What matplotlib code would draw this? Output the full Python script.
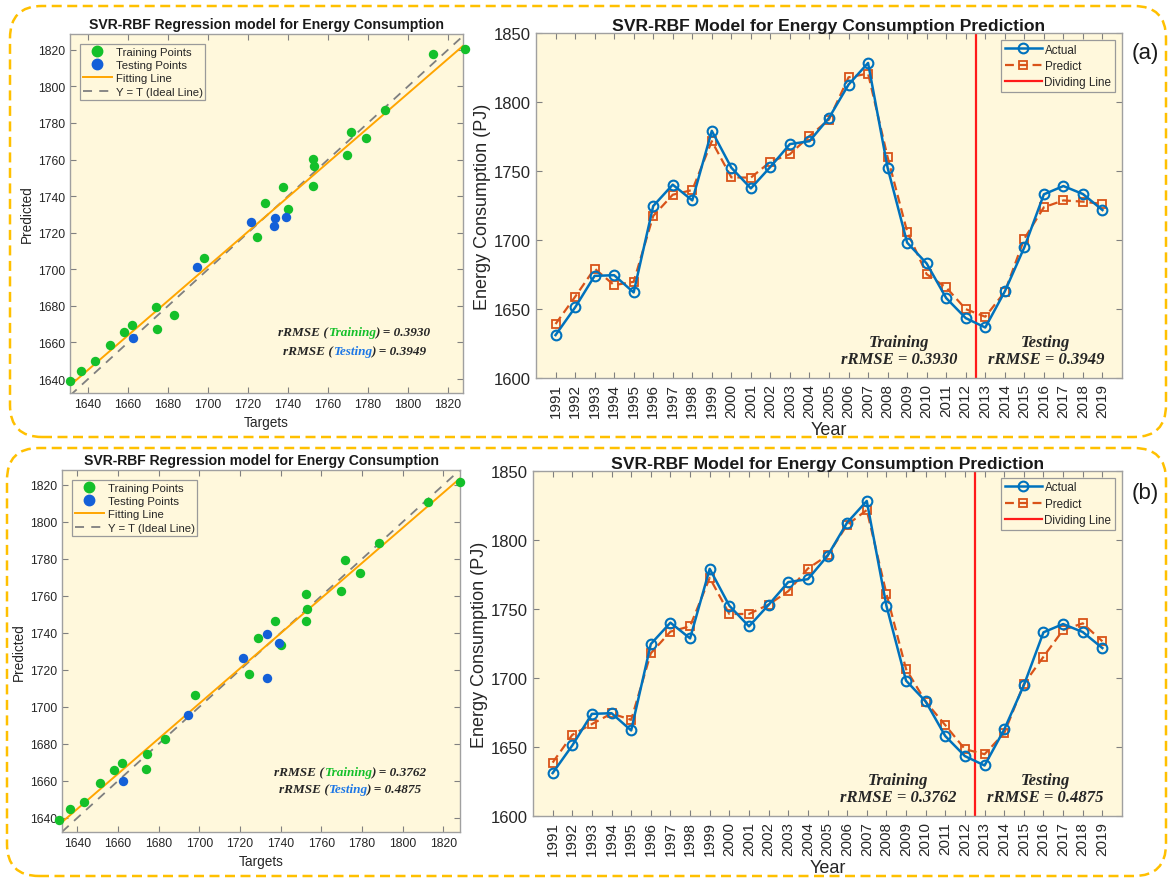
import numpy as np
import matplotlib
matplotlib.use("Agg")
import matplotlib.pyplot as plt
from matplotlib.patches import FancyBboxPatch
from matplotlib.transforms import IdentityTransform
from matplotlib.lines import Line2D

# ---------------- data ----------------
years = list(range(1991, 2020))
actual = [1631.1, 1651.1, 1674.0, 1674.5, 1662.0, 1724.6, 1740.1, 1728.7, 1779.1, 1752.4,
          1737.4, 1753.0, 1769.5, 1771.6, 1788.5, 1812.6, 1828.3, 1752.4, 1698.1, 1683.0,
          1657.9, 1643.4, 1636.6, 1662.7, 1694.7, 1733.1, 1739.1, 1733.3, 1721.7]
pred_a = [1639.1, 1658.8, 1679.3, 1667.3, 1669.7, 1717.4, 1732.8, 1736.2, 1771.6, 1745.4,
          1745.2, 1756.7, 1762.2, 1775.3, 1787.3, 1817.9, 1820.6, 1760.1, 1706.1, 1675.2,
          1665.6, 1649.9, 1644.4, 1662.4, 1701.0, 1723.7, 1728.7, 1727.8, 1726.1]
pred_b = [1638.7, 1658.8, 1666.6, 1674.3, 1669.7, 1717.9, 1733.6, 1737.5, 1772.6, 1746.4,
          1746.4, 1753.2, 1762.9, 1779.3, 1788.8, 1811.0, 1821.7, 1761.2, 1706.5, 1682.8,
          1665.8, 1648.4, 1644.8, 1660.0, 1695.6, 1715.4, 1734.8, 1739.6, 1726.6]
rrmse_a = ("0.3930", "0.3949")
rrmse_b = ("0.3762", "0.4875")
panel_labels = ["(a)", "(b)"]
split_year = 2012.5
n_train_scatter = 23
scatter_ticks = list(range(1640, 1821, 20))
energy_ticks = list(range(1600, 1851, 50))

# ---------------- style ----------------
plt.rcParams['font.family'] = ['Liberation Sans', 'DejaVu Sans']
BG = '#FFF8DC'
SPINE = '#a0a0a0'
TXT = '#262626'
GREEN = '#14C02A'
BLUEPT = '#1460D8'
BLUE = '#0072BD'
ORANGE = '#D95319'
FIT = '#FFA500'
GOLD = '#FFC000'
SERIF = dict(family=['Liberation Serif', 'DejaVu Serif'], weight='bold', style='italic')

W, H = 1172, 879
fig = plt.figure(figsize=(W / 100, H / 100), dpi=100)


def px_axes(left, top, right, bottom):
    return fig.add_axes([left / W, 1 - bottom / H, (right - left) / W, (bottom - top) / H])


def style_axes(ax, labelsize_x, labelsize_y):
    ax.set_facecolor(BG)
    for s in ax.spines.values():
        s.set_color(SPINE)
        s.set_linewidth(1.0)
    ax.tick_params(direction='in', top=True, right=True, length=4, width=0.8,
                   color='#808080', labelcolor=TXT)
    ax.tick_params(axis='x', labelsize=labelsize_x)
    ax.tick_params(axis='y', labelsize=labelsize_y)


def colored_line(ax, x, y, pieces, size):
    texts = []
    first = ax.text(x, y, pieces[0][0], color=pieces[0][1], transform=ax.transAxes,
                    ha='left', va='center', fontsize=size, **SERIF)
    texts.append(first)
    prev = first
    for s, c in pieces[1:]:
        t = ax.annotate(s, xy=(1, 0), xycoords=prev, va='bottom', ha='left',
                        color=c, fontsize=size, **SERIF)
        texts.append(t)
        prev = t
    fig.canvas.draw()
    r = fig.canvas.get_renderer()
    x0 = min(t.get_window_extent(r).x0 for t in texts)
    x1 = max(t.get_window_extent(r).x1 for t in texts)
    first.set_x(x - (x1 - x0) / 2 / ax.bbox.width)


def scatter_panel(ax, pred, xlim, ylim, rr, ty):
    act = np.array(actual)
    prd = np.array(pred)
    xs = np.array(xlim)
    coef = np.polyfit(act, prd, 1)
    ax.plot(xs, xs, ls=(0, (5, 4)), color='#7f7f7f', lw=1.3, zorder=2)
    ax.plot(xs, np.polyval(coef, xs), color=FIT, lw=1.4, zorder=2)
    ax.scatter(act[:n_train_scatter], prd[:n_train_scatter], s=46, color=GREEN,
               clip_on=False, zorder=3, linewidths=0)
    ax.scatter(act[n_train_scatter:], prd[n_train_scatter:], s=46, color=BLUEPT,
               clip_on=False, zorder=3, linewidths=0)
    ax.set_xlim(*xlim)
    ax.set_ylim(*ylim)
    ax.set_xticks(scatter_ticks)
    ax.set_yticks(scatter_ticks)
    style_axes(ax, 8.7, 8.7)
    ax.set_title('SVR-RBF Regression model for Energy Consumption', fontsize=10.1,
                 fontweight='bold', color='#1a1a1a', pad=4)
    ax.set_xlabel('Targets', fontsize=9.8, color=TXT, labelpad=3.5)
    ax.set_ylabel('Predicted', fontsize=9.8, color=TXT, labelpad=3)
    handles = [
        Line2D([], [], ls='none', marker='o', ms=7.5, color=GREEN),
        Line2D([], [], ls='none', marker='o', ms=7.5, color=BLUEPT),
        Line2D([], [], color=FIT, lw=1.4),
        Line2D([], [], color='#7f7f7f', lw=1.3, ls=(0, (5, 4))),
    ]
    leg = ax.legend(handles, ['Training Points', 'Testing Points', 'Fitting Line',
                              'Y = T (Ideal Line)'],
                    loc='upper left', fontsize=8.2, frameon=True, fancybox=False,
                    edgecolor='#9a9a9a', facecolor=BG, framealpha=1,
                    handlelength=2.6, handletextpad=0.3, labelspacing=0.3,
                    borderpad=0.25, borderaxespad=0.85)
    leg.get_frame().set_linewidth(0.9)
    for t in leg.get_texts():
        t.set_color(TXT)
    colored_line(ax, 0.725, ty[0], [('rRMSE (', TXT), ('Training', GREEN),
                                    (') = ' + rr[0], TXT)], 9.5)
    colored_line(ax, 0.725, ty[1], [('rRMSE (', TXT), ('Testing', '#1E78E6'),
                                    (') = ' + rr[1], TXT)], 9.5)


def line_panel(ax, pred, rr):
    ax.plot(years, pred, color=ORANGE, ls=(0, (4, 2.2)), lw=1.6, marker='s', ms=5.5,
            mfc='none', mew=1.3, label='Predict', zorder=3)
    ax.plot(years, actual, color=BLUE, lw=1.8, marker='o', ms=7, mfc='none',
            mew=1.5, label='Actual', zorder=4)
    ax.axvline(split_year, color='#FF1A1A', lw=1.6, label='Dividing Line', zorder=2)
    ax.set_xlim(1990, 2020)
    ax.set_ylim(1600, 1850)
    ax.set_xticks(years)
    ax.set_yticks(energy_ticks)
    style_axes(ax, 11, 12)
    ax.tick_params(axis='x', labelrotation=90)
    ax.set_title('SVR-RBF Model for Energy Consumption Prediction', fontsize=12.6,
                 fontweight='bold', color='#1a1a1a', pad=2)
    ax.set_xlabel('Year', fontsize=13, color=TXT, labelpad=3)
    ax.set_ylabel('Energy Consumption (PJ)', fontsize=13, color=TXT, labelpad=2)
    h, l = ax.get_legend_handles_labels()
    order = [1, 0, 2]
    leg = ax.legend([h[i] for i in order], [l[i] for i in order], loc='upper right',
                    fontsize=8.4, frameon=True, fancybox=False, edgecolor='#9a9a9a',
                    facecolor=BG, framealpha=1, handlelength=3.2, handletextpad=0.2,
                    labelspacing=0.38, borderpad=0.3, borderaxespad=0.6)
    leg.get_frame().set_linewidth(0.9)
    for t in leg.get_texts():
        t.set_color(TXT)
    ax.text(2008.6, 1620, 'Training\nrRMSE = ' + rr[0], ha='center', va='center',
            fontsize=12, color=TXT, linespacing=1.05, **SERIF)
    ax.text(2016.1, 1620, 'Testing\nrRMSE = ' + rr[1], ha='center', va='center',
            fontsize=12, color=TXT, linespacing=1.05, **SERIF)


# dashed rounded frames around each row
for (x0, top, x1, bot) in [(10, 7, 1166, 438), (7, 449, 1166, 877)]:
    frame = FancyBboxPatch((x0, H - bot), x1 - x0, bot - top,
                           boxstyle='round,pad=0,rounding_size=32',
                           transform=IdentityTransform(), fill=False,
                           ec=GOLD, lw=1.8, ls=(0, (4, 2.2)))
    fig.add_artist(frame)

# row (a)
ax1 = px_axes(70, 35, 463, 394)
scatter_panel(ax1, pred_a, (1631, 1827.5), (1632.4, 1828.6), rrmse_a, (0.17, 0.117))
ax2 = px_axes(536, 34, 1122, 379)
line_panel(ax2, pred_a, rrmse_a)
fig.text(1145 / W, 1 - 53 / H, panel_labels[0], fontsize=16, ha='center', va='center',
         color='#1a1a1a')

# row (b)
ax3 = px_axes(62, 471, 460, 833)
scatter_panel(ax3, pred_b, (1632.5, 1828.2), (1632.4, 1828.1), rrmse_b, (0.165, 0.118))
ax4 = px_axes(533, 472, 1122, 817)
line_panel(ax4, pred_b, rrmse_b)
fig.text(1145 / W, 1 - 493 / H, panel_labels[1], fontsize=16, ha='center', va='center',
         color='#1a1a1a')

fig.savefig('out.png', dpi=100, facecolor='white')
